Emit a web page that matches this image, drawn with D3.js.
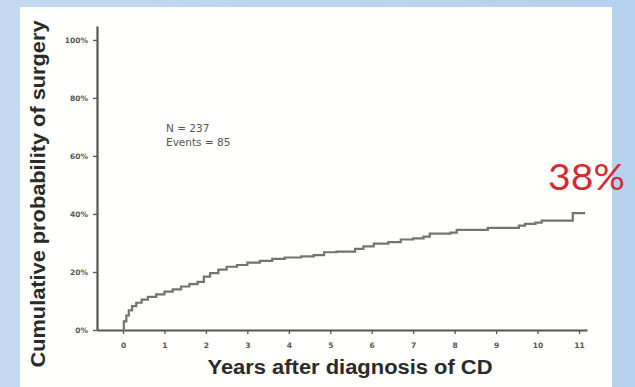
<!DOCTYPE html>
<html>
<head>
<meta charset="utf-8">
<script src="https://cdn.jsdelivr.net/npm/d3@7"></script>
<style>
body { margin: 0; background: #bdd6ef; }
svg { display: block; }
</style>
</head>
<body>
<script>
// Kaplan-Meier style cumulative probability of surgery (%)
var years   = [0, 0.02, 0.08, 0.14, 0.22, 0.32, 0.45, 0.6, 0.8, 1.0, 1.2, 1.4, 1.6, 1.8, 1.95, 2.1, 2.3, 2.5, 2.75, 3.0, 3.3, 3.6, 3.9, 4.3, 4.6, 4.85, 5.15, 5.6, 5.8, 6.05, 6.4, 6.7, 7.0, 7.25, 7.4, 7.9, 8.05, 8.8, 9.55, 9.7, 9.95, 10.1, 10.85, 11.15];
var surgery = [0, 3.0, 5.0, 6.8, 8.2, 9.4, 10.5, 11.4, 12.3, 13.2, 14.0, 15.0, 15.8, 16.6, 18.4, 19.6, 20.8, 21.8, 22.4, 23.2, 23.8, 24.5, 25.0, 25.4, 25.8, 26.8, 27.0, 28.0, 28.8, 29.8, 30.3, 31.2, 31.6, 32.2, 33.2, 33.6, 34.5, 35.2, 36.0, 36.6, 37.0, 37.7, 40.3, 40.3];

var xTicks = [0,1,2,3,4,5,6,7,8,9,10,11];
var yTicks = [0,20,40,60,80,100];

var width = 635;
var height = 387;

var svg = d3.select("body").append("svg")
    .attr("width", width)
    .attr("height", height);

// slide background
var grad = svg.append("defs").append("linearGradient")
    .attr("id", "bg").attr("x1", 0).attr("x2", 1).attr("y1", 0).attr("y2", 0);
grad.append("stop").attr("offset", "0%").attr("stop-color", "#c3daf1");
grad.append("stop").attr("offset", "100%").attr("stop-color", "#b4d1ed");

svg.append("rect")
    .attr("width", width).attr("height", height)
    .attr("fill", "url(#bg)");

svg.append("rect")
    .attr("x", 20).attr("y", 7)
    .attr("width", 592).attr("height", 380)
    .attr("fill", "#fffffd");

var x = d3.scaleLinear()
    .domain([-0.627, 11.193])
    .range([97, 587]);

var y = d3.scaleLinear()
    .domain([0, 104.8])
    .range([330, 26]);

var xAxis = d3.axisBottom(x).tickValues(xTicks).tickSize(4).tickSizeOuter(0).tickPadding(9);
var yAxis = d3.axisLeft(y).tickValues(yTicks).tickSize(4).tickSizeOuter(0).tickPadding(5)
    .tickFormat(function(d){ return d + "%"; });

var gx = svg.append("g")
    .attr("transform", "translate(0,330)")
    .call(xAxis);

var gy = svg.append("g")
    .attr("transform", "translate(97,0)")
    .call(yAxis);

[gx, gy].forEach(function(g){
  g.select(".domain").attr("stroke", "#555").attr("stroke-width", 2.2);
  g.selectAll(".tick line").attr("stroke", "#555").attr("stroke-width", 1.3);
  g.selectAll(".tick text")
      .attr("fill", "#555")
      .attr("font-family", "DejaVu Sans")
      .attr("font-weight", "bold")
      .attr("font-size", 7.5);
});

// survival curve
var line = d3.line()
    .x(function(d, i){ return x(years[i]); })
    .y(function(d){ return y(d); })
    .curve(d3.curveStepAfter);

svg.append("path")
    .datum(surgery)
    .attr("d", line)
    .attr("fill", "none")
    .attr("stroke", "#737373")
    .attr("stroke-width", 2.2);

// annotation
svg.append("text")
    .attr("x", 166).attr("y", 132)
    .attr("font-family", "DejaVu Sans").attr("font-size", 10.5)
    .attr("fill", "#555")
    .text("N = 237");
svg.append("text")
    .attr("x", 166).attr("y", 146)
    .attr("font-family", "DejaVu Sans").attr("font-size", 10.5)
    .attr("fill", "#555")
    .text("Events = 85");

// axis titles
svg.append("text")
    .attr("transform", "translate(45,194) rotate(-90)")
    .attr("text-anchor", "middle")
    .attr("font-family", "Liberation Sans, Arial").attr("font-weight", "bold").attr("font-size", 20)
    .attr("fill", "#2a2a2a")
    .attr("textLength", 347).attr("lengthAdjust", "spacingAndGlyphs")
    .text("Cumulative probability of surgery");

svg.append("text")
    .attr("x", 350).attr("y", 374)
    .attr("text-anchor", "middle")
    .attr("font-family", "Liberation Sans, Arial").attr("font-weight", "bold").attr("font-size", 20)
    .attr("fill", "#2a2a2a")
    .attr("textLength", 285).attr("lengthAdjust", "spacingAndGlyphs")
    .text("Years after diagnosis of CD");

// highlighted value
svg.append("text")
    .attr("x", 548).attr("y", 190)
    .attr("font-family", "Lato").attr("font-size", 37)
    .attr("fill", "#d52a31")
    .attr("textLength", 77).attr("lengthAdjust", "spacingAndGlyphs")
    .text("38%");
</script>
</body>
</html>
